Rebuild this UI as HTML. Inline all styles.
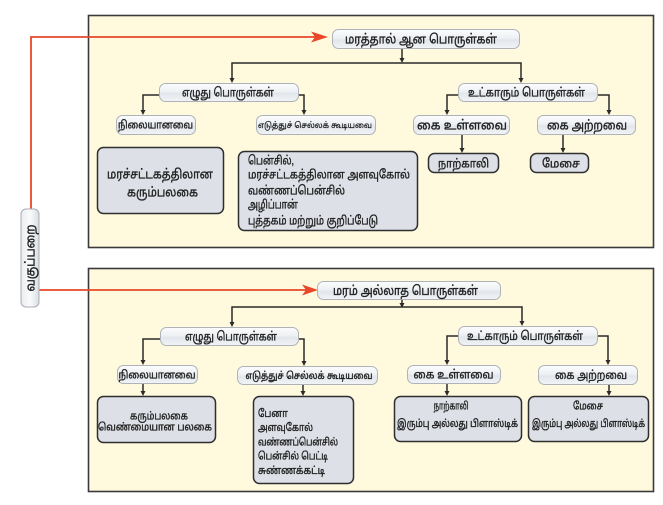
<!DOCTYPE html>
<html><head><meta charset="utf-8"><style>
html,body{margin:0;padding:0;background:#fff;}
svg{display:block;}
text{font-family:"Liberation Sans","Noto Sans Tamil","Lohit Tamil","Tamil MN","Latha",sans-serif;fill:#1e1e1e;stroke:#1e1e1e;stroke-width:0.35px;}
</style></head><body>
<svg width="663" height="505" viewBox="0 0 663 505" xmlns="http://www.w3.org/2000/svg">
<defs>
<linearGradient id="ng" x1="0" y1="0" x2="0" y2="1">
<stop offset="0" stop-color="#fbfcfd"/><stop offset="0.45" stop-color="#eef1f4"/><stop offset="0.55" stop-color="#e2e6eb"/><stop offset="1" stop-color="#f2f4f6"/>
</linearGradient>
<linearGradient id="vg" x1="0" y1="0" x2="1" y2="0">
<stop offset="0" stop-color="#e9ecef"/><stop offset="0.5" stop-color="#fafbfc"/><stop offset="1" stop-color="#d9dde2"/>
</linearGradient>
</defs>

<!-- panels -->
<rect x="88.5" y="15.5" width="565" height="232" fill="#fff9dd" stroke="#3a3a3a" stroke-width="1.6"/>
<rect x="88.5" y="268.5" width="565" height="223" fill="#fff9dd" stroke="#3a3a3a" stroke-width="1.6"/>

<!-- red connectors -->
<polyline points="31,209 31,37 316,37" fill="none" stroke="#e8472a" stroke-width="1.8"/>
<polygon points="311,31.5 328,37 311,42.5 315,37" fill="#e8472a"/>
<line x1="39" y1="290" x2="306" y2="290" stroke="#e8472a" stroke-width="1.8"/>
<polygon points="302,284.5 318,290 302,295.5 306,290" fill="#e8472a"/>

<!-- vertical label -->
<rect x="21" y="209" width="18" height="98" rx="5" fill="url(#vg)" stroke="#a9aeb5" stroke-width="1"/>
<text transform="translate(34.5,258) rotate(-90)" text-anchor="middle" font-size="13" textLength="67" lengthAdjust="spacingAndGlyphs">வகுப்பறை</text>

<!-- ===== TOP PANEL connectors ===== -->
<g stroke="#2a2a2a" stroke-width="1.5" fill="none">
<line x1="402" y1="48" x2="402" y2="59"/>
<polyline points="232,80 232,63 521,63 521,80"/>
<polyline points="159,95 143,95 143,112"/>
<polyline points="298,95 304,95 304,112"/>
<polyline points="458,95 447,95 447,112"/>
<polyline points="597,95 609,95 609,112"/>
<line x1="462" y1="134" x2="462" y2="149"/>
<line x1="563" y1="134" x2="563" y2="149"/>
</g>
<g fill="#2a2a2a">
<polygon points="399.5,58 404.5,58 402,63"/>
<polygon points="229.5,78 234.5,78 232,83"/>
<polygon points="518.5,78 523.5,78 521,83"/>
<polygon points="140.5,110 145.5,110 143,115"/>
<polygon points="301.5,110 306.5,110 304,115"/>
<polygon points="444.5,110 449.5,110 447,115"/>
<polygon points="606.5,110 611.5,110 609,115"/>
<polygon points="459.5,148 464.5,148 462,153"/>
<polygon points="560.5,148 565.5,148 563,153"/>
</g>

<!-- top nodes -->
<g fill="url(#ng)" stroke="#aeb3ba" stroke-width="1">
<rect x="332.5" y="29.5" width="187" height="19" rx="6"/>
<rect x="159.5" y="83.5" width="139" height="18" rx="6"/>
<rect x="116.5" y="115.5" width="79" height="19" rx="6"/>
<rect x="256.5" y="115.5" width="119" height="19" rx="6"/>
<rect x="458.5" y="83.5" width="139" height="18" rx="6"/>
<rect x="413.5" y="115.5" width="96" height="19" rx="6"/>
<rect x="537.5" y="115.5" width="98" height="19" rx="6"/>
</g>
<g fill="#dde0e6" stroke="#2e2e2e" stroke-width="1.5">
<rect x="97.5" y="147.5" width="126" height="66" rx="6"/>
<rect x="238.5" y="151.5" width="179" height="79" rx="6"/>
<rect x="428.5" y="153.5" width="70" height="19" rx="6"/>
<rect x="530.5" y="153.5" width="58" height="19" rx="6"/>
</g>

<g font-size="12">
<text x="345" y="43.5" font-size="13" textLength="152" lengthAdjust="spacingAndGlyphs">மரத்தால் ஆன பொருள்கள்</text>
<text x="228" y="96.5" text-anchor="middle" textLength="92" lengthAdjust="spacingAndGlyphs">எழுது பொருள்கள்</text>
<text x="155.5" y="128.5" text-anchor="middle" font-size="11" textLength="75" lengthAdjust="spacingAndGlyphs">நிலையானவை</text>
<text x="315" y="128" text-anchor="middle" font-size="8.5" textLength="114" lengthAdjust="spacingAndGlyphs" style="stroke-width:0.2px">எடுத்துச் செல்லக் கூடியவை</text>
<text x="526.5" y="96.5" text-anchor="middle" textLength="117" lengthAdjust="spacingAndGlyphs">உட்காரும் பொருள்கள்</text>
<text x="462" y="129.5" text-anchor="middle" font-size="13" textLength="90" lengthAdjust="spacingAndGlyphs">கை உள்ளவை</text>
<text x="587" y="129.5" text-anchor="middle" font-size="13" textLength="80" lengthAdjust="spacingAndGlyphs">கை அற்றவை</text>
<text x="463.5" y="167.5" text-anchor="middle" textLength="51" lengthAdjust="spacingAndGlyphs">நாற்காலி</text>
<text x="561" y="167.5" text-anchor="middle" textLength="38" lengthAdjust="spacingAndGlyphs">மேசை</text>
<text x="160" y="178.5" text-anchor="middle" font-size="13" textLength="106" lengthAdjust="spacingAndGlyphs">மரச்சட்டகத்திலான</text>
<text x="162.5" y="196.5" text-anchor="middle" font-size="13" textLength="71" lengthAdjust="spacingAndGlyphs">கரும்பலகை</text>
<text x="248" y="164.5" textLength="46" lengthAdjust="spacingAndGlyphs">பென்சில்,</text>
<text x="248" y="178.5" textLength="162" lengthAdjust="spacingAndGlyphs">மரச்சட்டகத்திலான அளவுகோல்</text>
<text x="248" y="194.5" textLength="97" lengthAdjust="spacingAndGlyphs">வண்ணப்பென்சில்</text>
<text x="248" y="208.5" textLength="50" lengthAdjust="spacingAndGlyphs">அழிப்பான்</text>
<text x="248" y="224.5" textLength="130" lengthAdjust="spacingAndGlyphs">புத்தகம் மற்றும் குறிப்பேடு</text>
</g>

<!-- ===== BOTTOM PANEL connectors ===== -->
<g stroke="#2a2a2a" stroke-width="1.5" fill="none">
<line x1="402" y1="299" x2="402" y2="304"/>
<polyline points="232,324 232,307 522,307 522,323"/>
<polyline points="160,339 143,339 143,362"/>
<polyline points="298,339 304,339 304,363"/>
<polyline points="458,336 447,336 447,362"/>
<polyline points="597,336 608,336 608,362"/>
<line x1="143" y1="383" x2="143" y2="392"/>
<line x1="303" y1="384" x2="303" y2="392"/>
<line x1="447" y1="383" x2="447" y2="392"/>
<line x1="609" y1="384" x2="609" y2="392"/>
</g>
<g fill="#2a2a2a">
<polygon points="399.5,303 404.5,303 402,308"/>
<polygon points="229.5,322 234.5,322 232,327"/>
<polygon points="519.5,321 524.5,321 522,326"/>
<polygon points="140.5,360 145.5,360 143,365"/>
<polygon points="301.5,361 306.5,361 304,366"/>
<polygon points="444.5,360 449.5,360 447,365"/>
<polygon points="605.5,360 610.5,360 608,365"/>
<polygon points="140.5,391 145.5,391 143,396"/>
<polygon points="300.5,391 305.5,391 303,396"/>
<polygon points="444.5,391 449.5,391 447,396"/>
<polygon points="606.5,391 611.5,391 609,396"/>
</g>

<g fill="url(#ng)" stroke="#aeb3ba" stroke-width="1">
<rect x="317.5" y="281.5" width="183" height="18" rx="6"/>
<rect x="160.5" y="327.5" width="138" height="18" rx="6"/>
<rect x="117.5" y="365.5" width="80" height="18" rx="6"/>
<rect x="237.5" y="366.5" width="140" height="18" rx="6"/>
<rect x="458.5" y="326.5" width="139" height="19" rx="6"/>
<rect x="407.5" y="365.5" width="93" height="18" rx="6"/>
<rect x="538.5" y="365.5" width="99" height="19" rx="6"/>
</g>
<g fill="#dde0e6" stroke="#2e2e2e" stroke-width="1.5">
<rect x="97.5" y="396.5" width="118" height="46" rx="6"/>
<rect x="253.5" y="396.5" width="100" height="87" rx="6"/>
<rect x="394.5" y="396.5" width="127" height="45" rx="6"/>
<rect x="528.5" y="396.5" width="120" height="45" rx="6"/>
</g>

<g font-size="12">
<text x="333" y="295" font-size="13" textLength="145" lengthAdjust="spacingAndGlyphs">மரம் அல்லாத பொருள்கள்</text>
<text x="231" y="340.5" text-anchor="middle" textLength="92" lengthAdjust="spacingAndGlyphs">எழுது பொருள்கள்</text>
<text x="157" y="378.5" text-anchor="middle" font-size="11" textLength="77" lengthAdjust="spacingAndGlyphs">நிலையானவை</text>
<text x="309" y="379" text-anchor="middle" font-size="10" textLength="127" lengthAdjust="spacingAndGlyphs">எடுத்துச் செல்லக் கூடியவை</text>
<text x="525" y="340" text-anchor="middle" textLength="116" lengthAdjust="spacingAndGlyphs">உட்காரும் பொருள்கள்</text>
<text x="453.5" y="378.5" text-anchor="middle" textLength="80" lengthAdjust="spacingAndGlyphs">கை உள்ளவை</text>
<text x="591" y="379" text-anchor="middle" textLength="72" lengthAdjust="spacingAndGlyphs">கை அற்றவை</text>
<text x="159" y="419.5" text-anchor="middle" font-size="10.5" textLength="58" lengthAdjust="spacingAndGlyphs">கரும்பலகை</text>
<text x="155" y="430.5" text-anchor="middle" font-size="10.5" textLength="114" lengthAdjust="spacingAndGlyphs">வெண்மையான பலகை</text>
<text x="258" y="417" font-size="10.5" textLength="30" lengthAdjust="spacingAndGlyphs">பேனா</text>
<text x="258" y="431" font-size="10.5" textLength="55" lengthAdjust="spacingAndGlyphs">அளவுகோல்</text>
<text x="258" y="445.5" font-size="10.5" textLength="80" lengthAdjust="spacingAndGlyphs">வண்ணப்பென்சில்</text>
<text x="258" y="459.5" font-size="10.5" textLength="70" lengthAdjust="spacingAndGlyphs">பென்சில் பெட்டி</text>
<text x="258" y="474" font-size="10.5" textLength="67" lengthAdjust="spacingAndGlyphs">சுண்ணக்கட்டி</text>
<text x="451" y="409.5" text-anchor="middle" font-size="10.5" textLength="35" lengthAdjust="spacingAndGlyphs">நாற்காலி</text>
<text x="457.5" y="427" text-anchor="middle" font-size="10.5" textLength="121" lengthAdjust="spacingAndGlyphs">இரும்பு அல்லது பிளாஸ்டிக்</text>
<text x="588" y="409.5" text-anchor="middle" font-size="10.5" textLength="30" lengthAdjust="spacingAndGlyphs">மேசை</text>
<text x="588.5" y="427" text-anchor="middle" font-size="10.5" textLength="113" lengthAdjust="spacingAndGlyphs">இரும்பு அல்லது பிளாஸ்டிக்</text>
</g>
</svg>
</body></html>
